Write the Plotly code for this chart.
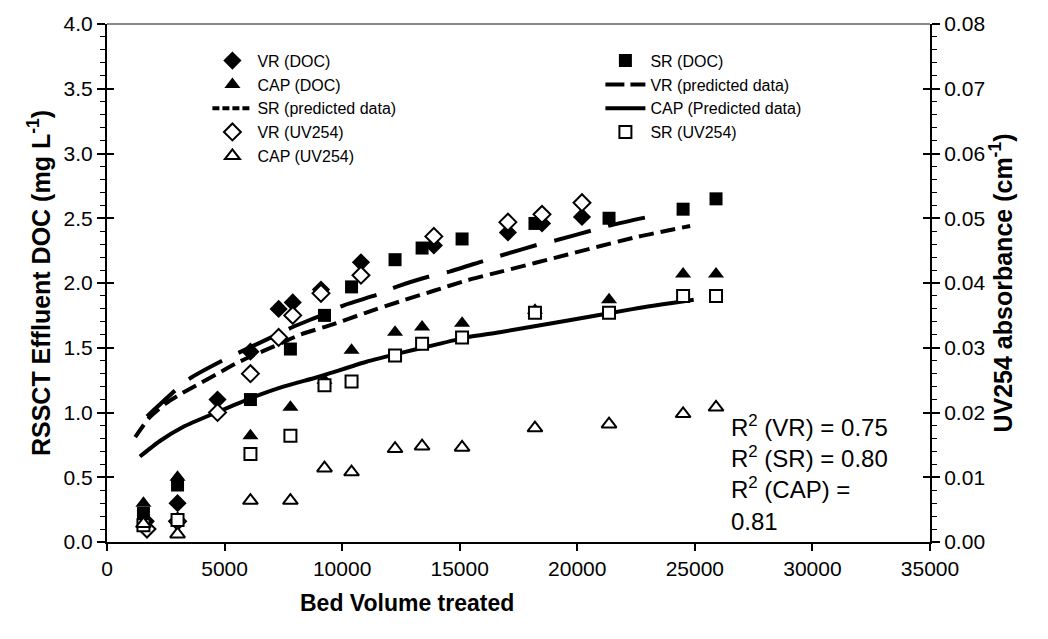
import plotly.graph_objects as go

# ---------------- data ----------------
vr_doc_x = [1650, 3000, 4700, 6100, 7300, 7900, 9100, 10800, 13900, 17050, 18500, 20200]
vr_doc_y = [0.16, 0.30, 1.10, 1.47, 1.80, 1.85, 1.95, 2.16, 2.29, 2.39, 2.46, 2.51]

vr_uv_x = [1700, 3000, 4700, 6100, 7300, 7900, 9100, 10800, 13900, 17050, 18500, 20200]
vr_uv_y = [0.0020, 0.0032, 0.0200, 0.0260, 0.0316, 0.0350, 0.0384, 0.0412, 0.0472, 0.0494, 0.0506, 0.0524]

sr_x = [1550, 3000, 6100, 7800, 9250, 10400, 12250, 13400, 15100, 18200, 21350, 24500, 25900]
sr_doc_y = [0.22, 0.44, 1.10, 1.49, 1.75, 1.97, 2.18, 2.27, 2.34, 2.46, 2.50, 2.57, 2.65]
sr_uv_y = [0.0026, 0.0034, 0.0136, 0.0164, 0.0242, 0.0248, 0.0288, 0.0306, 0.0316, 0.0354, 0.0354, 0.0380, 0.0380]

cap_x = [1550, 3000, 6100, 7800, 9250, 10400, 12250, 13400, 15100, 18200, 21350, 24500, 25900]
cap_doc_y = [0.30, 0.50, 0.82, 1.04, 1.25, 1.48, 1.62, 1.66, 1.69, 1.79, 1.87, 2.07, 2.07]
cap_uv_y = [0.0028, 0.0012, 0.0064, 0.0064, 0.0114, 0.0108, 0.0144, 0.0148, 0.0146, 0.0176, 0.0182, 0.0198, 0.0208]

vr_pred_x = [1700, 2900, 3500, 4900, 5700, 7100, 7900, 9100, 10100, 11500, 12300, 13700, 14600, 16000, 16900, 18400, 19100, 20700, 21500, 23000]
vr_pred_y = [0.97, 1.17, 1.26, 1.40, 1.47, 1.59, 1.66, 1.75, 1.83, 1.91, 1.97, 2.05, 2.09, 2.17, 2.22, 2.30, 2.33, 2.41, 2.45, 2.51]

sr_pred_x = [1200, 1800, 2500, 3200, 4000, 4700, 5500, 6200, 7100, 8200, 9600, 11000, 12500, 13900, 15300, 16800, 19600, 22400, 24800]
sr_pred_y = [0.81, 0.96, 1.07, 1.15, 1.23, 1.30, 1.38, 1.44, 1.51, 1.60, 1.68, 1.77, 1.86, 1.94, 2.02, 2.09, 2.22, 2.35, 2.44]

cap_pred_x = [1400, 2250, 3250, 4650, 6100, 7500, 8900, 9600, 11000, 12500, 13900, 15300, 16700, 19600, 22400, 24950]
cap_pred_y = [0.66, 0.78, 0.89, 1.00, 1.11, 1.20, 1.27, 1.31, 1.39, 1.46, 1.52, 1.58, 1.62, 1.71, 1.80, 1.87]

r2_lines = ["R<sup>2</sup> (VR) = 0.75", "R<sup>2</sup> (SR) = 0.80", "R<sup>2</sup> (CAP) =", "0.81"]
x_title = "Bed Volume treated"

# ---------------- figure ----------------
FONT = "Arial, Liberation Sans, sans-serif"
fig = go.Figure()

def filled(name, x, y, sym, size=12):
    fig.add_trace(go.Scatter(x=x, y=y, mode="markers", name=name,
                             marker=dict(symbol=sym, size=size, color="black",
                                         line=dict(color="black", width=0))))

def openm(name, x, y, sym, size=11):
    fig.add_trace(go.Scatter(x=x, y=y, mode="markers", name=name, yaxis="y2",
                             marker=dict(symbol=sym, size=size, color="white",
                                         line=dict(color="black", width=2))))

def line(name, x, y, dash, legend_dash):
    # plotted curve (legend entry drawn by a data-less twin with a shorter dash)
    fig.add_trace(go.Scatter(x=x, y=y, mode="lines", name=name, showlegend=False,
                             line=dict(color="black", width=4, dash=dash,
                                       shape="spline", smoothing=0.6)))
    fig.add_trace(go.Scatter(x=[None], y=[None], mode="lines", name=name,
                             line=dict(color="black", width=4, dash=legend_dash)))

# order matters for the 2-column legend (row-wise)
filled("VR (DOC)", vr_doc_x, vr_doc_y, "diamond", 14)
filled("SR (DOC)", sr_x, sr_doc_y, "square", 13)
filled("CAP (DOC)", cap_x, cap_doc_y, "triangle-up", 14)
line("VR (predicted data)", vr_pred_x, vr_pred_y, "38px,18px", "19px,6px")
line("SR (predicted data)", sr_pred_x, sr_pred_y, "15px,7px", "7px,3px")
line("CAP (Predicted data)", cap_pred_x, cap_pred_y, "solid", "solid")
openm("VR (UV254)", vr_uv_x, vr_uv_y, "diamond", 13)
openm("SR (UV254)", sr_x, sr_uv_y, "square", 12)
openm("CAP (UV254)", cap_x, cap_uv_y, "triangle-up", 13)

# empty traces so the tick-only overlay axes get drawn
fig.add_trace(go.Scatter(x=[None], y=[None], yaxis="y3", showlegend=False, hoverinfo="skip"))
fig.add_trace(go.Scatter(x=[None], y=[None], yaxis="y4", showlegend=False, hoverinfo="skip"))

fig.add_annotation(x=26450, y=0.257, xref="x", yref="paper", xanchor="left", yanchor="top",
                   text="<br>".join(r2_lines), showarrow=False, align="left",
                   font=dict(family=FONT, size=24, color="black"))

# x-axis title (off-centre in the reference)
fig.add_annotation(x=0.365, y=-0.088, xref="paper", yref="paper", xanchor="center", yanchor="top",
                   text="<b>" + x_title + "</b>", showarrow=False,
                   font=dict(family=FONT, size=23, color="black"))

# top frame line (grey)
fig.add_shape(type="line", xref="paper", yref="paper", x0=0, x1=1, y0=1, y1=1,
              line=dict(color="#888888", width=2))

axis_font = dict(family=FONT, size=21, color="black")

fig.update_layout(
    width=1048, height=639,
    margin=dict(l=107, r=118, t=19, b=97),
    paper_bgcolor="white", plot_bgcolor="white",
    font=dict(family=FONT, color="black"),
    xaxis=dict(range=[0, 35000], dtick=5000, tickformat="d", showgrid=False, zeroline=False,
               showline=True, linecolor="black", linewidth=2,
               ticks="outside", ticklen=7, tickwidth=1.5, tickcolor="black",
               tickfont=axis_font),
    yaxis=dict(range=[0, 4.0], dtick=0.5, tickformat=".1f", showgrid=False, zeroline=False,
               showline=True, linecolor="black", linewidth=2,
               ticks="outside", ticklen=8, tickwidth=1.5, tickcolor="black",
               minor=dict(dtick=0.1, ticks="outside", ticklen=5, tickcolor="black", tickwidth=1),
               tickfont=axis_font,
               title=dict(text="<b>RSSCT Effluent DOC (mg L<sup>-1</sup>)</b>",
                          font=dict(family=FONT, size=25, color="black"), standoff=6)),
    yaxis2=dict(range=[0, 0.08], dtick=0.01, tickformat=".2f", overlaying="y", side="right",
                showgrid=False, zeroline=False,
                showline=True, linecolor="black", linewidth=2,
                ticks="outside", ticklen=8, tickwidth=1.5, tickcolor="black",
                minor=dict(dtick=0.002, ticks="outside", ticklen=5, tickcolor="black", tickwidth=1),
                tickfont=axis_font,
                title=dict(text="<b>UV254 absorbance (cm<sup>-1</sup>)</b>",
                           font=dict(family=FONT, size=25, color="black"), standoff=8)),
    # inner halves of the crossing major ticks
    yaxis3=dict(range=[0, 4.0], dtick=0.5, overlaying="y", side="left", anchor="x",
                showgrid=False, zeroline=False, showline=False, showticklabels=False,
                ticks="inside", ticklen=7, tickwidth=1.5, tickcolor="black"),
    yaxis4=dict(range=[0, 0.08], dtick=0.01, overlaying="y", side="right", anchor="x",
                showgrid=False, zeroline=False, showline=False, showticklabels=False,
                ticks="inside", ticklen=7, tickwidth=1.5, tickcolor="black"),
    legend=dict(orientation="h", x=0.122, y=0.962, xanchor="left", yanchor="top",
                bgcolor="rgba(0,0,0,0)", font=dict(family=FONT, size=16, color="black"),
                entrywidth=338, entrywidthmode="pixels", tracegroupgap=0,
                itemwidth=40),
    showlegend=True,
)

fig.write_html("out.html")
